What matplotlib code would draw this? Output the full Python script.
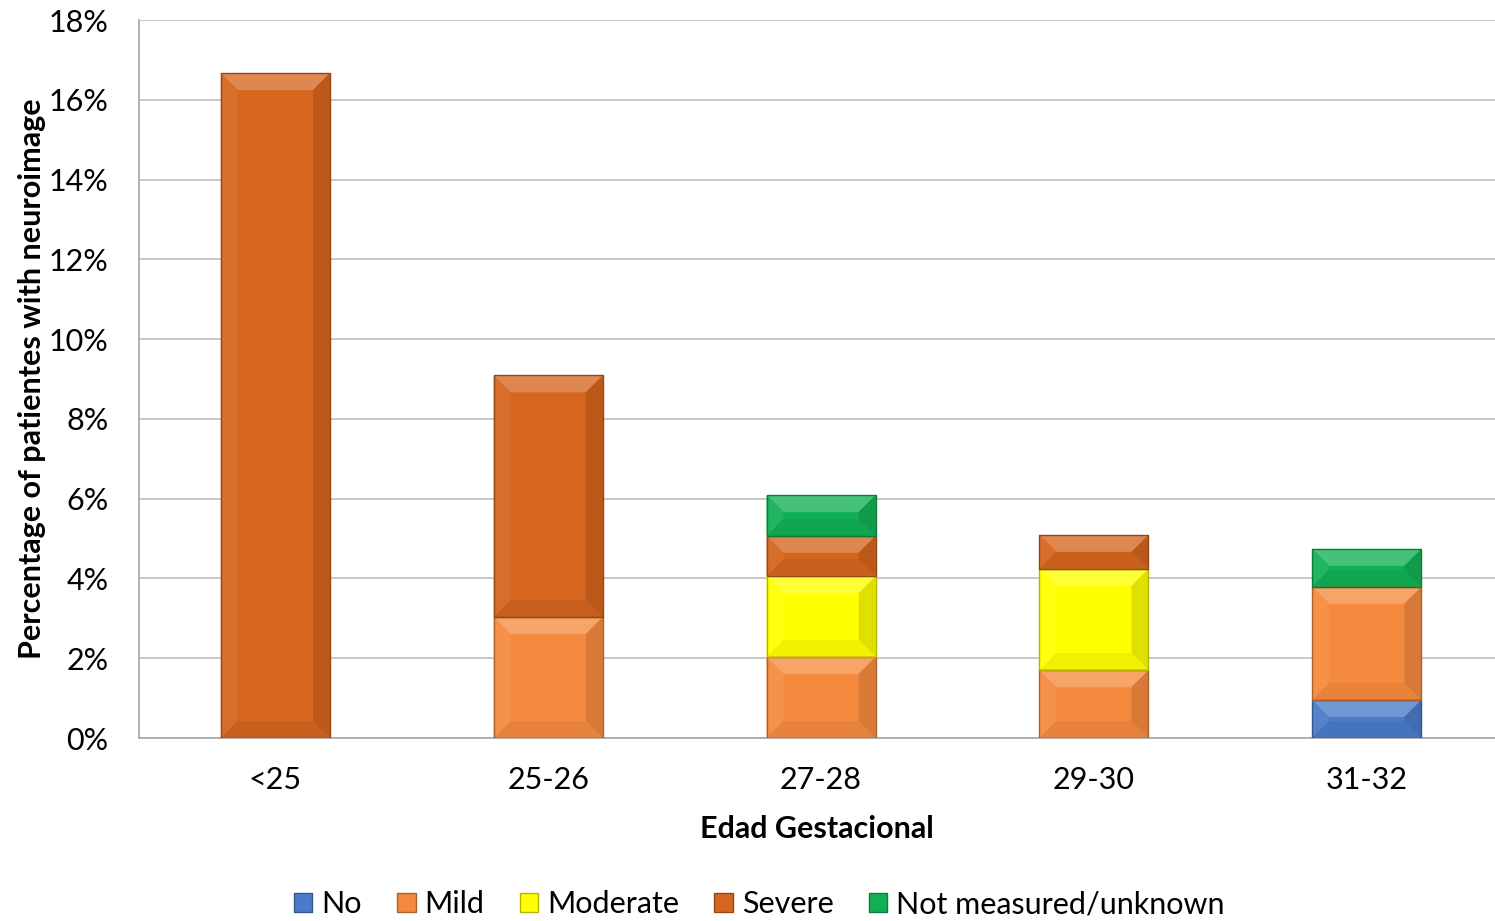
import matplotlib.pyplot as plt
import numpy as np
from matplotlib.patches import Polygon, Patch
from matplotlib.colors import to_rgb

plt.rcParams['font.family'] = ['Lato', 'DejaVu Sans']

categories = ['<25', '25-26', '27-28', '29-30', '31-32']
series = ['No', 'Mild', 'Moderate', 'Severe', 'Not measured/unknown']
values = {
    'No':                   [0.0,   0.0,  0.0,  0.0,  0.95],
    'Mild':                 [0.0,   3.03, 2.03, 1.70, 2.84],
    'Moderate':             [0.0,   0.0,  2.03, 2.54, 0.0],
    'Severe':               [16.67, 6.06, 1.01, 0.85, 0.0],
    'Not measured/unknown': [0.0,   0.0,  1.02, 0.0,  0.95],
}
colors = {
    'No': '#4A7BC8',
    'Mild': '#F58A3E',
    'Moderate': '#FFFF00',
    'Severe': '#D5651F',
    'Not measured/unknown': '#12B054',
}
yticks = np.arange(0, 19, 2)


def shade(c, f):
    r, g, b = to_rgb(c)
    if f > 0:
        return (r + (1 - r) * f, g + (1 - g) * f, b + (1 - b) * f)
    return (r * (1 + f), g * (1 + f), b * (1 + f))


def bevel(ax, rect, color, depth=17):
    # bevel facets built from the bar's own display geometry
    bb = rect.get_window_extent()
    x0, y0, x1, y1 = bb.x0, bb.y0, bb.x1, bb.y1
    d = min(depth, (x1 - x0) / 2, (y1 - y0) / 2)
    inv = ax.transData.inverted()
    faces = [
        ([(x0, y1), (x1, y1), (x1 - d, y1 - d), (x0 + d, y1 - d)], 0.22),
        ([(x0, y0), (x0, y1), (x0 + d, y1 - d), (x0 + d, y0 + d)], 0.06),
        ([(x1, y0), (x1, y1), (x1 - d, y1 - d), (x1 - d, y0 + d)], -0.12),
        ([(x0, y0), (x1, y0), (x1 - d, y0 + d), (x0 + d, y0 + d)], -0.06),
    ]
    for pts, f in faces:
        ax.add_patch(Polygon(inv.transform(pts), closed=True,
                             facecolor=shade(color, f), edgecolor='none', zorder=3))
    ax.add_patch(Polygon(inv.transform([(x0, y0), (x1, y0), (x1, y1), (x0, y1)]),
                         closed=True, facecolor='none',
                         edgecolor=shade(color, -0.3), linewidth=1.0, zorder=4))


fig = plt.figure(figsize=(14.95, 9.21), dpi=100)
ax = fig.add_axes([139 / 1495, (921 - 738) / 921, (1495 - 139) / 1495, (738 - 20) / 921])

x = np.arange(len(categories))
width = 0.4
bottom = np.zeros(len(categories))
drawn = []
for s in series:
    vals = np.array(values[s])
    rects = ax.bar(x, vals, width, bottom=bottom, color=colors[s], zorder=2, label=s)
    for r, v in zip(rects, vals):
        if v > 0:
            drawn.append((r, colors[s]))
    bottom += vals

ax.set_xlim(-0.5, 4.47)
ax.set_ylim(0, 18)
ax.set_yticks(yticks)
ax.set_yticklabels([f'{t}%' for t in yticks])
ax.set_xticks(x, categories)
ax.tick_params(axis='both', length=0, labelsize=22, colors='black')
ax.tick_params(axis='y', pad=22)
ax.tick_params(axis='x', pad=20)
ax.grid(axis='y', color='#BFBFBF', linewidth=1.2, zorder=0)
ax.set_axisbelow(True)
for sp in ['top', 'right']:
    ax.spines[sp].set_visible(False)
ax.spines['left'].set_color('#A6A6A6')
ax.spines['bottom'].set_color('#A6A6A6')
ax.spines['left'].set_linewidth(1.2)
ax.spines['bottom'].set_linewidth(1.2)

ax.set_xlabel('Edad Gestacional', fontsize=22, fontweight='bold', labelpad=15)
ax.set_ylabel('Percentage of patientes with neuroimage', fontsize=22, fontweight='bold', labelpad=2)

fig.canvas.draw()
for r, c in drawn:
    bevel(ax, r, c)

handles = [Patch(facecolor=colors[s], edgecolor=shade(colors[s], -0.3), label=s) for s in series]
fig.legend(handles=handles, loc='lower center', bbox_to_anchor=(0.508, -0.027), ncol=5,
           frameon=False, fontsize=22, handlelength=0.6, handleheight=0.6,
           handletextpad=0.3, columnspacing=1.15)

fig.savefig('out.png', dpi=100)
